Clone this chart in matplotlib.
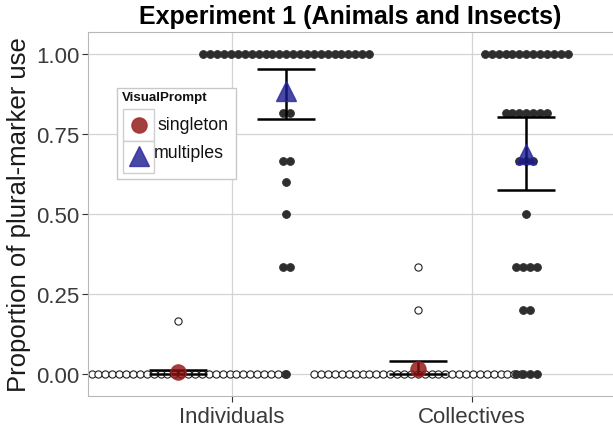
import numpy as np
import matplotlib
matplotlib.use("Agg")
import matplotlib.pyplot as plt
from matplotlib.patches import Rectangle

plt.rcParams['font.family'] = ['Liberation Sans', 'DejaVu Sans']

categories = ['Individuals', 'Collectives']
prompts = ['singleton', 'multiples']

# dot rows: value levels and how many participants sit on each level
ind_single_vals = [0.0, 0.167]
ind_single_counts = [32, 1]
ind_multi_vals = [0.0, 0.333, 0.5, 0.6, 0.667, 0.817, 1.0]
ind_multi_counts = [1, 2, 1, 1, 2, 2, 25]
col_single_vals = [0.0, 0.2, 0.333]
col_single_counts = [31, 1, 1]
col_multi_vals = [0.0, 0.2, 0.333, 0.5, 0.667, 0.817, 1.0]
col_multi_counts = [4, 2, 4, 1, 3, 7, 13]

# means and confidence intervals, per category
single_mean = [0.006, 0.014]
single_lo = [0.0, 0.0]
single_hi = [0.012, 0.040]
multi_mean = [0.884, 0.688]
multi_lo = [0.797, 0.575]
multi_hi = [0.953, 0.803]

W, H = 613, 431
fig = plt.figure(figsize=(W / 100, H / 100), dpi=100)
# panel runs a little past the right edge of the picture, as in the original
ax_w = 528
ax = fig.add_axes([88 / W, 1 - 397 / H, ax_w / W, (397 - 33) / H])

xmin, xmax = 0.4, 2.6
ax.set_xlim(xmin, xmax)
ax.set_ylim(-0.069, 1.069)
dodge = 0.226
step = 6.9 * (xmax - xmin) / ax_w

grid_c = '#d4d4d4'
ax.set_yticks([0, 0.25, 0.5, 0.75, 1.0])
ax.set_yticklabels(['0.00', '0.25', '0.50', '0.75', '1.00'])
ax.set_xticks([1, 2])
ax.set_xticklabels(categories)
ax.grid(True, color=grid_c, lw=0.9, zorder=0)
ax.set_axisbelow(True)
for s in ['left', 'top', 'bottom']:
    ax.spines[s].set_color('#b8b8b8')
    ax.spines[s].set_linewidth(0.8)
ax.spines['right'].set_visible(False)
ax.tick_params(axis='both', labelsize=16, colors='#333333', length=4, width=0.8)
ax.tick_params(axis='y', pad=2)
ax.tick_params(axis='x', pad=3)
for lab in ax.get_xticklabels() + ax.get_yticklabels():
    lab.set_color('#3a3a3a')


def dotrow(cx, vals, counts, filled):
    xs, ys = [], []
    for v, n in zip(vals, counts):
        off = (np.arange(n) - (n - 1) / 2) * step
        xs.extend(cx + off)
        ys.extend([v] * n)
    if filled:
        ax.scatter(xs, ys, s=33, c='#2e2e2e', edgecolors='#2e2e2e', lw=0.5, zorder=3)
    else:
        ax.scatter(xs, ys, s=27, c='white', edgecolors='#222222', lw=0.8, zorder=2)


dotrow(1 - dodge, ind_single_vals, ind_single_counts, False)
dotrow(1 + dodge, ind_multi_vals, ind_multi_counts, True)
dotrow(2 - dodge, col_single_vals, col_single_counts, False)
dotrow(2 + dodge, col_multi_vals, col_multi_counts, True)

xs_s = np.array([1, 2]) - dodge
xs_m = np.array([1, 2]) + dodge
for xs, m, lo, hi in [(xs_s, single_mean, single_lo, single_hi),
                      (xs_m, multi_mean, multi_lo, multi_hi)]:
    m = np.array(m)
    ax.errorbar(xs, m, yerr=[m - np.array(lo), np.array(hi) - m], fmt='none',
                ecolor='black', elinewidth=1.8, capsize=21, capthick=1.8, zorder=4)

ax.plot(xs_s, single_mean, 'o', ms=11, color='#8b0f0f', mec='#a52a2a', mew=1,
        alpha=0.8, zorder=5, ls='none')
ax.plot(xs_m, multi_mean, '^', ms=15, color='#1a1a8f', mec='#2a2aa0', mew=1,
        alpha=0.8, zorder=5, ls='none')

fig.text((88 + 613) / 2 / W, 1 - 17 / H, 'Experiment 1 (Animals and Insects)',
         fontsize=18, fontweight='bold', ha='center', va='center', color='black')
ax.set_ylabel('Proportion of plural-marker use', fontsize=18.5, color='#1a1a1a',
              labelpad=4)

# legend drawn in its own little pixel-space axes
lg = fig.add_axes([116 / W, 1 - 180 / H, 120 / W, 92 / H])
lg.set_xlim(116, 236)
lg.set_ylim(180, 88)
lg.axis('off')
lg.add_patch(Rectangle((116.5, 88.5), 119, 91, fc='white', ec='#c8c8c8', lw=1,
                       clip_on=False))
lg.text(122, 98, 'VisualPrompt', fontsize=9.6, fontweight='bold', va='center',
        ha='left', color='#111111')
lg.add_patch(Rectangle((123, 110), 31, 32, fc='white', ec='#cfcfcf', lw=1))
lg.add_patch(Rectangle((123, 142), 31, 32, fc='white', ec='#cfcfcf', lw=1))
lg.plot([138.5], [126], 'o', ms=11, color='#8b0f0f', mec='#a52a2a', mew=1, alpha=0.8)
lg.plot([138.5], [157], '^', ms=15, color='#1a1a8f', mec='#2a2aa0', mew=1, alpha=0.8)
lg.text(157, 125, prompts[0], fontsize=12.8, va='center', ha='left', color='#111111')
lg.text(154, 154, prompts[1], fontsize=12.8, va='center', ha='left', color='#111111')

fig.savefig('out.png', dpi=100)
